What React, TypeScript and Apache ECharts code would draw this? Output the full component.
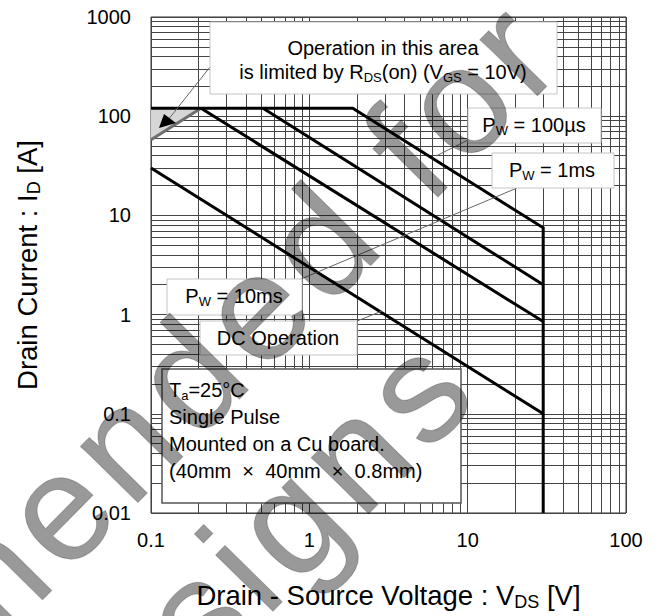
import React, { useEffect, useRef } from 'react';
import * as echarts from 'echarts';

// ---- data ----
const X_TICKS = [0.1, 1, 10, 100];
const X_TICK_LABELS = ['0.1', '1', '10', '100'];
const Y_TICKS = [0.01, 0.1, 1, 10, 100, 1000];
const Y_TICK_LABELS = ['0.01', '0.1', '1', '10', '100', '1000'];

const X_MINOR = [0.2, 0.3, 0.4, 0.5, 0.6, 0.7, 0.8, 0.9, 2, 3, 4, 5, 6, 7, 8, 9, 20, 30, 40, 50, 60, 70, 80, 90];
const Y_MINOR = [
  0.02, 0.03, 0.04, 0.05, 0.06, 0.07, 0.08, 0.09,
  0.2, 0.3, 0.4, 0.5, 0.6, 0.7, 0.8, 0.9,
  2, 3, 4, 5, 6, 7, 8, 9,
  20, 30, 40, 50, 60, 70, 80, 90,
  200, 300, 400, 500, 600, 700, 800, 900,
];

const RDS_LIMIT = [[0.1, 58], [0.207, 120]];
const RDS_SHADE = [[0.1, 58], [0.207, 120], [0.1, 120]];
const PW_100US = [[0.1, 120], [1.88, 120], [30, 7.5], [30, 0.01]];
const PW_1MS = [[0.51, 120], [30, 2.0]];
const PW_10MS = [[0.207, 120], [30, 0.85]];
const DC_OPERATION = [[0.1, 30], [30, 0.1]];

const WATERMARK_LINE1 = 'Not recommended for';
const WATERMARK_LINE2 = 'new designs';

const FONT = "'Liberation Sans', Arial, Helvetica, sans-serif";

const fmt = (ticks: number[], labels: string[]) => (v: number) => {
  const i = ticks.findIndex((t) => Math.abs(Math.log10(t) - Math.log10(v)) < 1e-6);
  return i >= 0 ? labels[i] : '';
};

const curve = (name: string, data: number[][], color = '#000', width = 3) => ({
  type: 'line',
  name,
  data,
  symbol: 'none',
  showSymbol: false,
  silent: true,
  z: 3,
  lineStyle: { color, width, cap: 'butt', join: 'miter' },
});

const subRich = (size: number) => ({
  sub: { fontSize: size, lineHeight: Math.round(size * 0.9), verticalAlign: 'bottom', fontFamily: FONT, fill: '#000', color: '#000' },
});

const annText = (text: string, x: number, y: number, align = 'center', z = 11) => ({
  type: 'text',
  x,
  y,
  z,
  silent: true,
  style: {
    text,
    fontSize: 20,
    fontFamily: FONT,
    fill: '#000',
    align,
    verticalAlign: 'middle',
    lineHeight: 24,
    rich: subRich(13),
  },
});

const box = (x1: number, y1: number, x2: number, y2: number, stroke = '#c4c4c4', lw = 1) => ({
  type: 'rect',
  z: 10,
  silent: true,
  shape: { x: x1, y: y1, width: x2 - x1, height: y2 - y1 },
  style: { fill: '#fff', stroke, lineWidth: lw },
});

const leader = (x1: number, y1: number, x2: number, y2: number) => ({
  type: 'line',
  z: 9,
  silent: true,
  shape: { x1, y1, x2, y2 },
  style: { stroke: '#666', lineWidth: 1 },
});

// Arial advance widths (em) for the watermark letters
const ADV: Record<string, number> = {
  N: 0.722, o: 0.556, t: 0.278, ' ': 0.278, r: 0.333, e: 0.556, c: 0.5, m: 0.833,
  n: 0.556, d: 0.556, f: 0.278, w: 0.722, s: 0.5, i: 0.222, g: 0.556,
};
const WM_SIZE = 152;
const WM_SPACING = 9;
const WM_ANGLE = (45.5 * Math.PI) / 180;

const watermark = (text: string, ox: number, oy: number) => {
  const children: any[] = [];
  let off = 0;
  for (const ch of text) {
    if (ch !== ' ') {
      children.push({
        type: 'text',
        x: off,
        y: 0,
        z: 100,
        silent: true,
        style: {
          text: ch,
          fontSize: WM_SIZE,
          fontFamily: FONT,
          fill: 'rgba(0,0,0,0.4)',
          stroke: 'rgba(0,0,0,0.22)',
          lineWidth: 1,
          align: 'left',
          verticalAlign: 'middle',
        },
      });
    }
    off += (ADV[ch] ?? 0.556) * WM_SIZE + WM_SPACING;
  }
  return { type: 'group', x: ox, y: oy, rotation: WM_ANGLE, z: 100, silent: true, children };
};

const titleStyle = {
  fontSize: 27.5,
  fontFamily: FONT,
  color: '#000',
  lineHeight: 32,
  rich: { sub: { fontSize: 18, lineHeight: 18, verticalAlign: 'bottom', fontFamily: FONT, color: '#000' } },
};

const option: any = {
  animation: false,
  backgroundColor: '#fff',
  grid: { left: 151, top: 17, width: 475, height: 499, show: true, borderColor: '#333', borderWidth: 1, backgroundColor: 'transparent' },
  xAxis: {
    type: 'log',
    logBase: 10,
    min: 0.1,
    max: 100,
    splitNumber: 3,
    axisLine: { show: false },
    axisTick: { show: false },
    splitLine: { show: true, lineStyle: { color: '#444', width: 1 } },
    axisLabel: { formatter: fmt(X_TICKS, X_TICK_LABELS), fontSize: 20, color: '#000', fontFamily: FONT, margin: 17 },
    name: 'Drain - Source Voltage : V{sub|DS} [V]',
    nameLocation: 'middle',
    nameGap: 66,
    nameTextStyle: titleStyle,
  },
  yAxis: {
    type: 'log',
    logBase: 10,
    min: 0.01,
    max: 1000,
    splitNumber: 5,
    axisLine: { show: false },
    axisTick: { show: false },
    splitLine: { show: true, lineStyle: { color: '#444', width: 1 } },
    axisLabel: { formatter: fmt(Y_TICKS, Y_TICK_LABELS), fontSize: 20, color: '#000', fontFamily: FONT, margin: 20 },
    name: 'Drain Current : I{sub|D} [A]',
    nameLocation: 'middle',
    nameGap: 108,
    nameTextStyle: titleStyle,
  },
  series: [
    {
      type: 'line',
      name: 'grid',
      data: [[0.1, 0.01]],
      symbol: 'none',
      silent: true,
      z: 1,
      lineStyle: { opacity: 0 },
      markLine: {
        silent: true,
        z: 1,
        symbol: ['none', 'none'],
        label: { show: false },
        emphasis: { disabled: true },
        lineStyle: { color: '#444', width: 1, type: 'solid' },
        data: [...X_MINOR.map((v) => ({ xAxis: v })), ...Y_MINOR.map((v) => ({ yAxis: v }))],
      },
    },
    {
      type: 'custom',
      name: 'shade',
      silent: true,
      z: 2,
      data: [RDS_SHADE[0]],
      renderItem: (_p: any, api: any) => ({
        type: 'polygon',
        shape: { points: RDS_SHADE.map((p) => api.coord(p)) },
        style: { fill: '#d6d6d6' },
      }),
    },
    curve('RDS(on) limit', RDS_LIMIT, '#6e6e6e', 3),
    curve('PW = 100us', PW_100US),
    curve('PW = 1ms', PW_1MS),
    curve('PW = 10ms', PW_10MS),
    curve('DC Operation', DC_OPERATION),
  ],
  graphic: [
    // RDS(on) annotation
    box(210, 22, 557, 94),
    annText('Operation in this area\nis limited by R{sub|DS}(on) (V{sub|GS} = 10V)', 383, 60),
    leader(210, 67, 168, 120),
    { type: 'polygon', z: 9, silent: true, shape: { points: [[159, 128], [164, 114], [176, 123]] }, style: { fill: '#000' } },
    // pulse labels
    box(468, 108, 601, 143),
    annText('P{sub|W} = 100µs', 534, 125),
    leader(468, 140, 436, 156),
    box(492, 153, 614, 188),
    annText('P{sub|W} = 1ms', 552, 170),
    leader(517, 188, 301, 279),
    box(167, 279, 302, 315),
    annText('P{sub|W} = 10ms', 234, 296),
    box(200, 321, 357, 355),
    annText('DC Operation', 278, 338),
    leader(357, 321, 382, 311),
    // conditions
    box(162, 369, 461, 503, '#555', 1.5),
    annText('T{sub|a}=25°C', 169, 390, 'left'),
    annText('Single Pulse', 169, 417, 'left'),
    annText('Mounted on a Cu board.', 169, 444, 'left'),
    annText('(40mm  ×  40mm  ×  0.8mm)', 169, 471, 'left'),
    // watermark
    watermark(WATERMARK_LINE1, -616, 1194),
    watermark(WATERMARK_LINE2, -213, 1030),
  ],
};

export default function App() {
  const ref = useRef<HTMLDivElement>(null);
  useEffect(() => {
    const chart = echarts.init(ref.current!, null, { renderer: 'svg' });
    chart.setOption(option);
    return () => chart.dispose();
  }, []);
  return (
    <div
      ref={ref}
      style={{ position: 'absolute', left: 0, top: 0, width: 659, height: 616, background: '#fff' }}
    />
  );
}
